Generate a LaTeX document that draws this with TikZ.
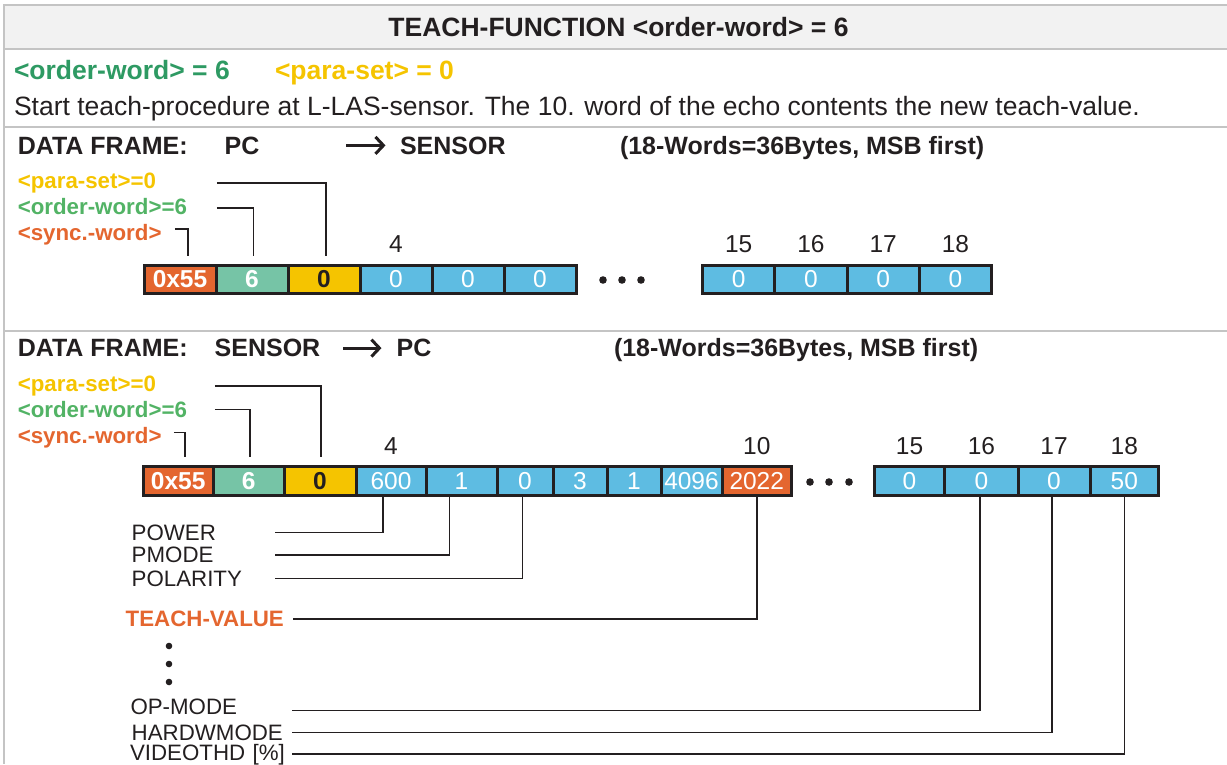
\documentclass[tikz,border=0pt]{standalone}
\usepackage{fontspec}
\setmainfont{Liberation Sans}
\usetikzlibrary{arrows.meta,positioning}
\definecolor{tOrange}{HTML}{E4662F}
\definecolor{tGreen}{HTML}{76C4A6}
\definecolor{tGreenTxt}{HTML}{2E9A63}
\definecolor{tGreenLab}{HTML}{52B365}
\definecolor{tYellow}{HTML}{F5C400}
\definecolor{tBlue}{HTML}{5EBCE2}
\definecolor{tLine}{HTML}{231F20}
\definecolor{tFrame}{HTML}{C4C4C4}
\definecolor{tHead}{HTML}{F2F2F2}

\begin{document}
\begin{tikzpicture}[x=1pt, y=-1pt, every node/.style={inner sep=0pt, outer sep=0pt, text=tLine},
	big/.style={font=\fontsize{26.5}{30}\selectfont, anchor=base west},
	bbig/.style={font=\bfseries\fontsize{26.5}{30}\selectfont, anchor=base west},
	sec/.style={font=\bfseries\fontsize{25}{30}\selectfont, anchor=base west},
	lab/.style={font=\fontsize{22.3}{26}\selectfont, anchor=base west, text width=#1, align=left},
	blab/.style={lab=#1, font=\bfseries\fontsize{22.3}{26}\selectfont},
	idx/.style={font=\fontsize{24.5}{28}\selectfont, above=12.5pt of #1},
	wd/.style={draw=tLine, line width=3pt, minimum height=28.5pt, anchor=west, font=\fontsize{24.5}{28}\selectfont},
	bwd/.style={wd, font=\bfseries\fontsize{24.5}{28}\selectfont},
	bl/.style={wd, fill=tBlue, text=white},
	conn/.style={draw=tLine, line width=1.5pt},
	tconn/.style={conn, shorten >=9.5pt},
	arr/.style={draw=tLine, line width=3pt, -{Straight Barb[length=8pt, width=17pt]}},
	dot/.style={fill=tLine}]
	\useasboundingbox (0,0) rectangle (1227,764);
	\fill[tHead] (4,5) rectangle (1227,49);
	\draw[tFrame, line width=2pt] (1227,5) -- (4,5) -- (4,764);
	\foreach \y in {49,127,331} \draw[tFrame, line width=2pt] (4,\y) -- (1227,\y);

	\node[bbig, anchor=base] (title) at (618.5,36.7) {TEACH-FUNCTION <order-word> = 6};
	\node[bbig, text=tGreenTxt] (ow) at (14,79.5) {<order-word> = 6};
	\node[bbig, text=tYellow] (ps) at (275,79.5) {<para-set> = 0};
	\node[big] (desc) at (14,115) {Start teach-procedure at L-LAS-sensor. The 10. word of the echo contents the new teach-value.};

	\node[sec] (df1) at (17.8,154) {DATA FRAME:};
	\node[sec] (pc1) at (224.6,154) {PC};
	\node[sec] (sen1) at (400,154) {SENSOR};
	\node[sec] (len1) at (620,154) {(18-Words=36Bytes, MSB first)};
	\draw[arr] ([xshift=-54pt]sen1.west) -- ([xshift=-14.5pt]sen1.west);

	\node[blab=199pt, text=tYellow] (ps1) at (17.8,188.3) {<para-set>=0};
	\node[blab=199pt, text=tGreenLab] (ow1) at (17.8,214) {<order-word>=6};
	\node[blab=157pt, text=tOrange] (sw1) at (17.8,240.5) {<sync.-word>};

	\node[bwd, fill=tOrange, text=white, minimum width=72pt] (a1) at (144,279.5) {0x55};
	\node[bwd, fill=tGreen, text=white, minimum width=72pt] (a2) at (216,279.5) {6};
	\node[bwd, fill=tYellow, minimum width=72pt] (a3) at (288,279.5) {0};
	\foreach \i/\x in {4/360,5/432,6/504} \node[bl, minimum width=72pt] (a\i) at (\x,279.5) {0};
	\foreach \i/\x in {15/702.5,16/774.75,17/847,18/919.25} \node[bl, minimum width=72.25pt] (a\i) at (\x,279.5) {0};
	\foreach \i in {4,15,16,17,18} \node[idx=a\i] (ia\i) {\i};
	\foreach \x in {603,622,641} \fill[dot] (\x,280) circle (3.8);

	\draw[tconn] (ps1.east) -| ([xshift=2pt]a3.north);
	\draw[tconn] ([yshift=-2pt]ow1.east) -| ([xshift=1.5pt]a2.north);
	\draw[tconn] ([yshift=5.7pt]sw1.east) -| ([xshift=8pt]a1.north);

	\node[sec] (df2) at (17.8,356.7) {DATA FRAME:};
	\node[sec] (sen2) at (214.7,356.7) {SENSOR};
	\node[sec] (pc2) at (396.6,356.7) {PC};
	\node[sec] (len2) at (614,356.7) {(18-Words=36Bytes, MSB first)};
	\draw[arr] ([xshift=-53.6pt]pc2.west) -- ([xshift=-15.1pt]pc2.west);

	\node[blab=197pt, text=tYellow] (ps2) at (17.8,391.7) {<para-set>=0};
	\node[blab=197pt, text=tGreenLab] (ow2) at (17.8,417.3) {<order-word>=6};
	\node[blab=156pt, text=tOrange] (sw2) at (17.8,443.3) {<sync.-word>};

	\node[bwd, fill=tOrange, text=white, minimum width=70.5pt] (b1) at (143,481) {0x55};
	\node[bwd, fill=tGreen, text=white, minimum width=70.5pt] (b2) at (213.5,481) {6};
	\node[bwd, fill=tYellow, minimum width=72pt] (b3) at (284,481) {0};
	\foreach \i/\x/\w/\v in {4/356/70/600, 5/426/71/1, 6/497/56/0, 7/553/54/3, 8/607/54/1, 9/661/61/4096,
		15/874.3/70.5/0, 16/944.8/73.2/0, 17/1018/72/0, 18/1090/68.5/50}
		\node[bl, minimum width=\w pt] (b\i) at (\x,481) {\v};
	\node[wd, fill=tOrange, text=white, minimum width=69.5pt] (b10) at (722,481) {2022};
	\foreach \i in {4,10,15,16,17,18} \node[idx=b\i] (ib\i) {\i};
	\foreach \x in {810,829,849} \fill[dot] (\x,482) circle (3.8);

	\draw[tconn] (ps2.east) -| ([xshift=1pt]b3.north);
	\draw[tconn] (ow2.east) -| ([xshift=1.25pt]b2.north);
	\draw[tconn] ([yshift=4.8pt]sw2.east) -| ([xshift=6.5pt]b1.north);

	\node[lab=143pt] (pw) at (131.7,540) {POWER};
	\node[lab=143pt] (pm) at (131.7,562.7) {PMODE};
	\node[lab=143pt] (po) at (131.7,586) {POLARITY};
	\node[blab=167.7pt, text=tOrange] (tv) at (125.7,626.7) {TEACH-VALUE};
	\foreach \y in {646,664,682} \fill[dot] (169,\y) circle (3.3);
	\node[lab=161.3pt] (om) at (130.5,714) {OP-MODE};
	\node[lab=160.3pt] (hw) at (131.7,740) {HARDWMODE};
	\node[lab=162pt] (vt) at (130,760) {VIDEOTHD [\%]};

	\draw[conn] ([xshift=-8pt]b4.south) |- (pw.east);
	\draw[conn] ([xshift=-12pt]b5.south) |- (pm.east);
	\draw[conn] ([xshift=-2.3pt]b6.south) |- (po.east);
	\draw[conn] (b10.south) |- (tv.east);
	\draw[conn] ([xshift=-1.4pt]b16.south) |- ([yshift=-4pt]om.east);
	\draw[conn] ([xshift=-2pt]b17.south) |- (hw.east);
	\draw[conn] (b18.south) |- (vt.east);
\end{tikzpicture}
\end{document}
